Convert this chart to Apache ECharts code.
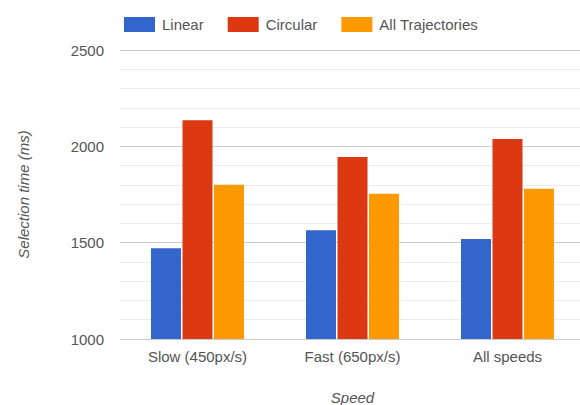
<!DOCTYPE html>
<html>
<head>
<meta charset="utf-8">
<script src="https://cdn.jsdelivr.net/npm/echarts@6/dist/echarts.min.js"></script>
<style>html,body{margin:0;padding:0;background:#fff;}#c{width:580px;height:405px;}</style>
</head>
<body>
<div id="c"></div>
<script>
const categories = ['Slow (450px/s)', 'Fast (650px/s)', 'All speeds'];
const seriesNames = ['Linear', 'Circular', 'All Trajectories'];
const linear = [1471, 1564, 1519];
const circular = [2136, 1944, 2038];
const allTraj = [1801, 1754, 1780];
const yTicks = { min: 1000, max: 2500, interval: 500 };
const colors = ['#3366cc', '#dc3912', '#ff9900'];

const font = 'Liberation Sans, Arial, sans-serif';
const chart = echarts.init(document.getElementById('c'), null, { renderer: 'svg' });
const values = [linear, circular, allTraj];
chart.setOption({
  animation: false,
  color: colors,
  textStyle: { fontFamily: font },
  legend: {
    left: 119, top: 12,
    itemWidth: 31, itemHeight: 15, itemGap: 24,
    icon: 'rect',
    textStyle: { fontSize: 15, color: '#555', fontFamily: font, padding: [0, 0, 0, 2] },
    data: seriesNames
  },
  grid: { left: 120, top: 50, width: 465, height: 289, containLabel: false, outerBoundsMode: 'none' },
  xAxis: {
    type: 'category',
    data: categories,
    name: 'Speed',
    nameLocation: 'middle',
    nameGap: 51,
    nameTextStyle: { fontSize: 15, fontStyle: 'italic', color: '#555', fontFamily: font },
    axisLine: { show: false },
    axisTick: { show: false },
    axisLabel: { fontSize: 15, color: '#555', margin: 10, fontFamily: font }
  },
  yAxis: {
    type: 'value',
    min: yTicks.min, max: yTicks.max, interval: yTicks.interval,
    name: 'Selection time (ms)',
    nameLocation: 'middle',
    nameGap: 89,
    nameTextStyle: { fontSize: 15, fontStyle: 'italic', color: '#555', fontFamily: font },
    axisLine: { show: false },
    axisTick: { show: false },
    axisLabel: { fontSize: 15, color: '#555', margin: 16, fontFamily: font, formatter: v => String(v) },
    splitLine: { lineStyle: { color: '#cccccc', width: 1 } },
    minorTick: { show: false, splitNumber: 5 },
    minorSplitLine: { show: true, lineStyle: { color: '#ececec', width: 1 } }
  },
  series: seriesNames.map((n, i) => ({
    name: n,
    type: 'bar',
    data: values[i],
    barGap: '5%',
    barCategoryGap: '40%'
  }))
});
</script>
</body>
</html>
